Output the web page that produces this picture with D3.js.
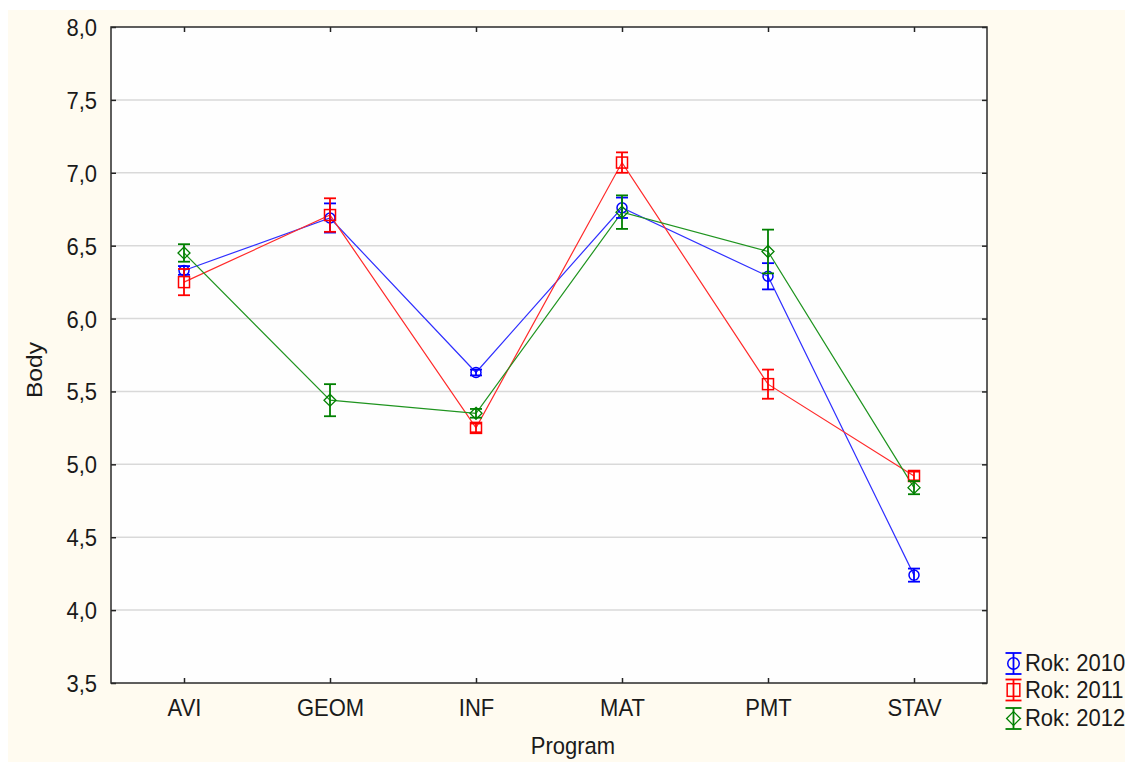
<!DOCTYPE html>
<html>
<head>
<meta charset="utf-8">
<script src="https://cdn.jsdelivr.net/npm/d3@7/dist/d3.min.js"></script>
<style>
  html, body { margin: 0; padding: 0; background: #ffffff; }
  svg { display: block; }
  text { font-family: "Liberation Sans", Arial, sans-serif; fill: #1a1a1a; }
</style>
</head>
<body>
<svg id="chart" width="1125" height="762"></svg>
<script>
// Mean points (Body) by study programme and year, with error bar half-widths
const programs = ["AVI", "GEOM", "INF", "MAT", "PMT", "STAV"];
const years = ["2010", "2011", "2012"];
const means2010 = [6.33, 6.69, 5.63, 6.76, 6.29, 4.24];
const means2011 = [6.25, 6.71, 5.25, 7.07, 5.55, 4.92];
const means2012 = [6.45, 5.44, 5.35, 6.73, 6.46, 4.84];
const err2010 = [0.03, 0.10, 0.02, 0.07, 0.09, 0.045];
const err2011 = [0.09, 0.115, 0.03, 0.07, 0.10, 0.03];
const err2012 = [0.06, 0.11, 0.03, 0.115, 0.15, 0.045];
const yTicks = [3.5, 4.0, 4.5, 5.0, 5.5, 6.0, 6.5, 7.0, 7.5, 8.0];

const seriesColors = ["#0000ff", "#ff0000", "#008000"];
const lineColors = ["#2f2fff", "#ff2a2a", "#1f941f"];
const markerShapes = ["circle", "square", "diamond"];

const series = years.map((y, i) => ({
  year: y,
  means: [means2010, means2011, means2012][i],
  errs: [err2010, err2011, err2012][i],
  color: seriesColors[i],
  lineColor: lineColors[i],
  shape: markerShapes[i]
}));

const svg = d3.select("#chart");
const W = 1125, H = 762;
const plot = { left: 111, right: 987, top: 27, bottom: 683 };
const FONT = "22px";
const SY = 1.08; // text is drawn slightly taller than wide

// Panel background
svg.append("rect").attr("x", 0).attr("y", 0).attr("width", W).attr("height", H).attr("fill", "#ffffff");
svg.append("rect").attr("x", 8).attr("y", 10).attr("width", W - 8).attr("height", H - 10).attr("fill", "#fffbf0");
svg.append("rect").attr("x", plot.left).attr("y", plot.top)
  .attr("width", plot.right - plot.left).attr("height", plot.bottom - plot.top).attr("fill", "#fefefe");

const x = d3.scalePoint().domain(programs).range([plot.left, plot.right]).padding(0.5);
const y = d3.scaleLinear().domain([3.5, 8.0]).range([plot.bottom, plot.top]);
const fmt = d => d.toFixed(1).replace(".", ",");

// Horizontal grid
svg.append("g").selectAll("line").data(yTicks.filter(t => t > 3.5 && t < 8.0)).join("line")
  .attr("x1", plot.left).attr("x2", plot.right)
  .attr("y1", d => y(d)).attr("y2", d => y(d))
  .attr("stroke", "#d9d9d9").attr("stroke-width", 1.5);

// Axes with inward ticks
const axL = svg.append("g").attr("transform", `translate(${plot.left},0)`)
  .call(d3.axisLeft(y).tickValues(yTicks).tickFormat(fmt).tickSizeInner(-5).tickSizeOuter(0).tickPadding(14));
const axR = svg.append("g").attr("transform", `translate(${plot.right},0)`)
  .call(d3.axisRight(y).tickValues(yTicks).tickFormat("").tickSizeInner(-5).tickSizeOuter(0));
const axB = svg.append("g").attr("transform", `translate(0,${plot.bottom})`)
  .call(d3.axisBottom(x).tickSizeInner(-5).tickSizeOuter(0));
const axT = svg.append("g").attr("transform", `translate(0,${plot.top})`)
  .call(d3.axisTop(x).tickFormat("").tickSizeInner(-5).tickSizeOuter(0));
[axL, axR, axB, axT].forEach(g => {
  g.select(".domain").remove();
  g.selectAll(".tick line").attr("stroke", "#222").attr("stroke-width", 1.5);
  g.selectAll("text").style("font-size", FONT).attr("fill", "#1a1a1a")
    .style("font-family", '"Liberation Sans", Arial, sans-serif');
});
axL.selectAll(".tick text").attr("dy", "0.355em").attr("transform", `scale(1,${SY})`);
axB.selectAll(".tick text").attr("dy", 0).attr("y", 33.5 / SY).attr("transform", `scale(1,${SY})`);

// Frame
svg.append("rect").attr("x", plot.left).attr("y", plot.top)
  .attr("width", plot.right - plot.left).attr("height", plot.bottom - plot.top)
  .attr("fill", "none").attr("stroke", "#2a2a2a").attr("stroke-width", 1.5);

// Axis titles
svg.append("text").attr("transform", `translate(573,754) scale(1,${SY})`).attr("text-anchor", "middle")
  .style("font-size", FONT).text("Program");
svg.append("text").attr("transform", `translate(42,370) scale(1,1.12) rotate(-90)`).attr("text-anchor", "middle")
  .style("font-size", FONT).text("Body");

// Marker drawing helper
function drawMarker(g, shape, cx, cy, color, s = 1) {
  if (shape === "circle") {
    g.append("circle").attr("cx", cx).attr("cy", cy).attr("r", 5 * s)
      .attr("fill", "none").attr("stroke", color).attr("stroke-width", 1.5);
  } else if (shape === "square") {
    const h = 5.5 * s;
    g.append("rect").attr("x", cx - h).attr("y", cy - h).attr("width", 2 * h).attr("height", 2 * h)
      .attr("fill", "none").attr("stroke", color).attr("stroke-width", 1.5);
  } else {
    const h = 6 * s;
    g.append("path").attr("d", `M${cx},${cy - h}L${cx + h},${cy}L${cx},${cy + h}L${cx - h},${cy}Z`)
      .attr("fill", "none").attr("stroke", color).attr("stroke-width", 1.3);
  }
}

function drawErrorBar(g, cx, y1, y2, color, cap = 6) {
  g.append("line").attr("x1", cx).attr("x2", cx).attr("y1", y1).attr("y2", y2)
    .attr("stroke", color).attr("stroke-width", 1.8);
  [y1, y2].forEach(v => g.append("line").attr("x1", cx - cap).attr("x2", cx + cap)
    .attr("y1", v).attr("y2", v).attr("stroke", color).attr("stroke-width", 1.8));
}

const line = d3.line().x((d, i) => x(programs[i])).y(d => y(d));

// Series lines
series.forEach(s => {
  svg.append("path").datum(s.means).attr("d", line)
    .attr("fill", "none").attr("stroke", s.lineColor).attr("stroke-width", 1.2);
});

// Error bars and markers
series.forEach(s => {
  const g = svg.append("g");
  s.means.forEach((m, i) => {
    const cx = x(programs[i]);
    drawErrorBar(g, cx, y(m + s.errs[i]), y(m - s.errs[i]), s.color);
    drawMarker(g, s.shape, cx, y(m), s.color);
  });
});

// Legend
const legend = svg.append("g");
const legendRows = [663.5, 690, 718.5];
series.forEach((s, i) => {
  const ly = legendRows[i];
  const lx = 1013.5;
  drawErrorBar(legend, lx, ly - 10.5, ly + 10.5, s.color, 8);
  drawMarker(legend, s.shape, lx, ly, s.color, 1.15);
  legend.append("text").attr("transform", `translate(1025,${ly + 7.5}) scale(1,${SY})`)
    .style("font-size", FONT).text("Rok: " + s.year);
});
</script>
</body>
</html>
